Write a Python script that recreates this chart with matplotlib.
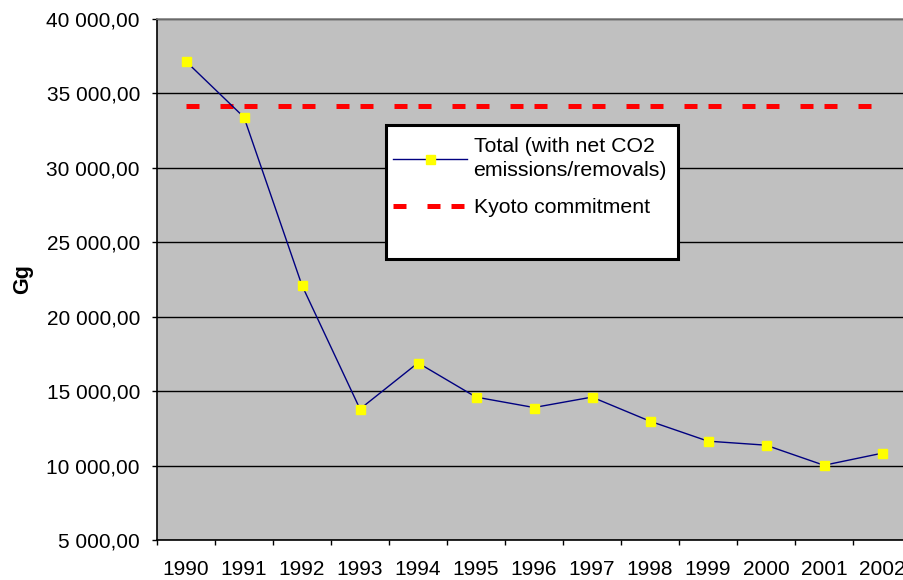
#!/usr/bin/env python3
"""
Total emissions vs Kyoto commitment, 1990-2002 (Excel-style line chart)
"""

import matplotlib
matplotlib.use('Agg')
import matplotlib.pyplot as plt
from matplotlib.patches import Rectangle
import numpy as np

# data (Gg)
years = ['1990', '1991', '1992', '1993', '1994', '1995', '1996',
         '1997', '1998', '1999', '2000', '2001', '2002']
total = [37150, 33400, 22100, 13800, 16900, 14600, 13900,
         14600, 12980, 11640, 11370, 10020, 10830]
kyoto = [34150] * len(years)
y_ticks = [5000, 10000, 15000, 20000, 25000, 30000, 35000, 40000]

plt.rcParams['font.family'] = ['Liberation Sans', 'DejaVu Sans']

DPI = 100
PX = 72.0 / DPI  # points per pixel
W, H = 904, 580

fig = plt.figure(figsize=(W / DPI, H / DPI), dpi=DPI)
fig.patch.set_facecolor('white')

# plot area: left 157px, top 19px, bottom 540px, 58px per category
n = len(years)
ax = fig.add_axes([157 / W, 40 / H, n * 58 / W, 521 / H])
ax.set_facecolor('#C0C0C0')

x = np.arange(n)

# Kyoto line, dashed
kyoto_lw = 5 * PX
dash = (13 * PX / kyoto_lw, 21 * PX / kyoto_lw, 13 * PX / kyoto_lw, 11 * PX / kyoto_lw)
ax.plot(x, kyoto, color='#FF0000', linewidth=kyoto_lw,
        linestyle=(0, dash), solid_capstyle='butt', dash_capstyle='butt',
        label='Kyoto commitment', zorder=3)

# total series
ax.plot(x, total, color='#000080', linewidth=1.0, marker='s',
        markersize=9 * PX, markerfacecolor='#FFFF00', markeredgecolor='#FFFF00',
        label='Total (with net CO2\nemissions/removals)', zorder=4)

ax.set_xlim(-0.5, n - 0.5)
ax.set_ylim(5000, 40000)

# y axis
ax.set_yticks(y_ticks)
ax.set_yticklabels([f'{v:,.2f}'.replace(',', ' ').replace('.', ',') for v in y_ticks])
ax.yaxis.grid(True, color='black', linewidth=1.0)
ax.set_axisbelow(True)
ax.tick_params(axis='y', direction='out', length=5 * PX, width=1, pad=12 * PX,
               labelsize=15, colors='black')

# x axis: ticks at category borders, labels centred
ax.set_xticks(np.arange(n + 1) - 0.5)
ax.set_xticklabels([])
ax.set_xticks(x, minor=True)
ax.set_xticklabels(years, minor=True)
ax.tick_params(axis='x', which='major', direction='out', length=5 * PX, width=1)
ax.tick_params(axis='x', which='minor', length=0, pad=20 * PX, labelsize=15)

for side in ['left', 'bottom']:
    ax.spines[side].set_color('black')
    ax.spines[side].set_linewidth(1.2)
ax.spines['top'].set_color('#808080')
ax.spines['top'].set_linewidth(1.2)
ax.spines['right'].set_visible(False)

ax.set_ylabel('Gg', fontsize=15.5, fontweight='bold')
ax.yaxis.set_label_coords(-124 / 754, 0.5)

# legend box, Excel style (fixed size, white, black frame)
fig.patches.append(Rectangle((386 / W, 1 - 259 / H), (678 - 386) / W, (259 - 125) / H,
                             transform=fig.transFigure, facecolor='white',
                             edgecolor='black', linewidth=2.2, zorder=5))

handles, labels = ax.get_legend_handles_labels()
leg = fig.legend(handles[::-1], labels[::-1], loc='upper left',
                 bbox_to_anchor=(378 / W, 1 - 122 / H),
                 fontsize=15.3, frameon=False, borderpad=0.2, handlelength=3.5,
                 handletextpad=0.3, labelspacing=0.85)
for t in leg.get_texts():
    t.set_linespacing(1.35)
leg.set_zorder(6)

fig.savefig('out.png', dpi=DPI)
